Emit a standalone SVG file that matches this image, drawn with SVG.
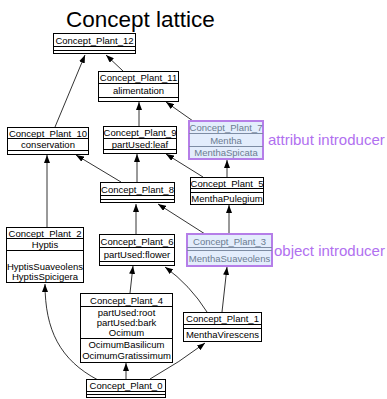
<svg xmlns="http://www.w3.org/2000/svg" width="387" height="399" viewBox="0 0 387 399">
<defs>
<marker id="arr" markerWidth="8" markerHeight="6" refX="8" refY="3" orient="auto" markerUnits="userSpaceOnUse">
<path d="M0,0 L8,3 L0,6 z" fill="#000"/>
</marker>
</defs>
<style>
text{font-family:"Liberation Sans",Arial,Helvetica,sans-serif;}
.box{fill:#fff;stroke:#000;stroke-width:1;}
.sep{stroke:#000;stroke-width:1;}
.t{font-size:9.5px;text-anchor:middle;fill:#000;}
.hbox{fill:#e3edfc;stroke:#b57ee8;stroke-width:2;}
.hsep{stroke:#7d8ca3;stroke-width:1;}
.ht{font-size:9.5px;text-anchor:middle;fill:#6b7c91;}
.edge{fill:none;stroke:#000;stroke-width:0.8;marker-end:url(#arr);}
.lab{font-size:15px;fill:#b170f0;}
</style>
<rect width="387" height="399" fill="#fff"/>
<text x="66" y="27" font-size="22.5" fill="#000">Concept lattice</text>

<g id="connectors">
<path class="edge" d="M55,127 L85,55"/>
<path class="edge" d="M123,71 L106,55"/>
<path class="edge" d="M139,126 L139,102"/>
<path class="edge" d="M193,121 L166,102"/>
<path class="edge" d="M121,182 L76,155"/>
<path class="edge" d="M137,182 L137,154"/>
<path class="edge" d="M227,177 L227,160"/>
<path class="edge" d="M203,177 L166,154"/>
<path class="edge" d="M47,227 L47,155"/>
<path class="edge" d="M136,234 L136,204"/>
<path class="edge" d="M205,234 L158,204"/>
<path class="edge" d="M229,234 L229,205"/>
<path class="edge" d="M130,293 L133,266"/>
<path class="edge" d="M207,312 Q190,285 165,267"/>
<path class="edge" d="M222,312 L227,267"/>
<path class="edge" d="M126,379 L126,363"/>
<path class="edge" d="M150,379 Q180,362 205,343"/>
<path class="edge" d="M98,380 C60,360 45,330 45,284"/>
</g>

<g id="node12">
<rect class="box" x="53.5" y="33.5" width="82" height="20"/>
<line class="sep" x1="53.5" y1="46.5" x2="135.5" y2="46.5"/>
<line class="sep" x1="53.5" y1="50.5" x2="135.5" y2="50.5"/>
<text class="t" x="94.5" y="43.5">Concept_Plant_12</text>
</g>

<g id="node11">
<rect class="box" x="98.5" y="71.5" width="80" height="30"/>
<line class="sep" x1="98.5" y1="83.5" x2="178.5" y2="83.5"/>
<line class="sep" x1="98.5" y1="97.5" x2="178.5" y2="97.5"/>
<text class="t" x="138.5" y="81">Concept_Plant_11</text>
<text class="t" x="138.5" y="94">alimentation</text>
</g>

<g id="node10">
<rect class="box" x="7.5" y="127.5" width="81" height="27"/>
<line class="sep" x1="7.5" y1="138.5" x2="88.5" y2="138.5"/>
<line class="sep" x1="7.5" y1="150.5" x2="88.5" y2="150.5"/>
<text class="t" x="48" y="136.5">Concept_Plant_10</text>
<text class="t" x="48" y="148">conservation</text>
</g>

<g id="node9">
<rect class="box" x="103.5" y="126.5" width="73" height="27"/>
<line class="sep" x1="103.5" y1="138.5" x2="176.5" y2="138.5"/>
<line class="sep" x1="103.5" y1="149.5" x2="176.5" y2="149.5"/>
<text class="t" x="140" y="136">Concept_Plant_9</text>
<text class="t" x="140" y="147.5">partUsed:leaf</text>
</g>

<g id="node7">
<rect class="hbox" x="189" y="121" width="74" height="38"/>
<line class="hsep" x1="189" y1="133.5" x2="263" y2="133.5"/>
<line class="hsep" x1="189" y1="146.5" x2="263" y2="146.5"/>
<text class="ht" x="226" y="131">Concept_Plant_7</text>
<text class="ht" x="226" y="143.5">Mentha</text>
<text class="ht" x="226" y="156">MenthaSpicata</text>
</g>

<g id="node5">
<rect class="box" x="190.5" y="177.5" width="73" height="27"/>
<line class="sep" x1="190.5" y1="188.5" x2="263.5" y2="188.5"/>
<line class="sep" x1="190.5" y1="192.5" x2="263.5" y2="192.5"/>
<text class="t" x="227" y="186.5">Concept_Plant_5</text>
<text class="t" x="227" y="202">MenthaPulegium</text>
</g>

<g id="node8">
<rect class="box" x="100.5" y="182.5" width="74" height="20"/>
<line class="sep" x1="100.5" y1="195.5" x2="174.5" y2="195.5"/>
<line class="sep" x1="100.5" y1="199.5" x2="174.5" y2="199.5"/>
<text class="t" x="137.5" y="192.5">Concept_Plant_8</text>
</g>

<g id="node2">
<rect class="box" x="6.5" y="227.5" width="77" height="55"/>
<line class="sep" x1="6.5" y1="238.5" x2="83.5" y2="238.5"/>
<line class="sep" x1="6.5" y1="250.5" x2="83.5" y2="250.5"/>
<text class="t" x="45" y="236.5">Concept_Plant_2</text>
<text class="t" x="45" y="248">Hyptis</text>
<text class="t" x="45" y="270">HyptisSuaveolens</text>
<text class="t" x="45" y="279.5">HyptisSpicigera</text>
</g>

<g id="node6">
<rect class="box" x="99.5" y="234.5" width="75" height="31"/>
<line class="sep" x1="99.5" y1="247.5" x2="174.5" y2="247.5"/>
<line class="sep" x1="99.5" y1="261.5" x2="174.5" y2="261.5"/>
<text class="t" x="137" y="244.5">Concept_Plant_6</text>
<text class="t" x="137" y="258">partUsed:flower</text>
</g>

<g id="node3">
<rect class="hbox" x="187" y="234" width="85" height="32"/>
<line class="hsep" x1="187" y1="247.5" x2="272" y2="247.5"/>
<line class="hsep" x1="187" y1="250.5" x2="272" y2="250.5"/>
<text class="ht" x="229.5" y="244.5">Concept_Plant_3</text>
<text class="ht" x="229.5" y="262">MenthaSuaveolens</text>
</g>

<g id="node4">
<rect class="box" x="80.5" y="293.5" width="92" height="69"/>
<line class="sep" x1="80.5" y1="306.5" x2="172.5" y2="306.5"/>
<line class="sep" x1="80.5" y1="338.5" x2="172.5" y2="338.5"/>
<text class="t" x="126.5" y="303.5">Concept_Plant_4</text>
<text class="t" x="126.5" y="316">partUsed:root</text>
<text class="t" x="126.5" y="325.5">partUsed:bark</text>
<text class="t" x="126.5" y="335.5">Ocimum</text>
<text class="t" x="126.5" y="348">OcimumBasilicum</text>
<text class="t" x="126.5" y="358.5">OcimumGratissimum</text>
</g>

<g id="node1">
<rect class="box" x="183.5" y="312.5" width="78" height="29"/>
<line class="sep" x1="183.5" y1="324.5" x2="261.5" y2="324.5"/>
<line class="sep" x1="183.5" y1="328.5" x2="261.5" y2="328.5"/>
<text class="t" x="222.5" y="322">Concept_Plant_1</text>
<text class="t" x="222.5" y="338">MenthaVirescens</text>
</g>

<g id="node0">
<rect class="box" x="86.5" y="379.5" width="79" height="18"/>
<line class="sep" x1="86.5" y1="391.5" x2="165.5" y2="391.5"/>
<line class="sep" x1="86.5" y1="394.5" x2="165.5" y2="394.5"/>
<text class="t" x="126" y="389">Concept_Plant_0</text>
</g>

<text class="lab" x="268" y="145">attribut introducer</text>
<text class="lab" x="274" y="255.5">object introducer</text>
</svg>
